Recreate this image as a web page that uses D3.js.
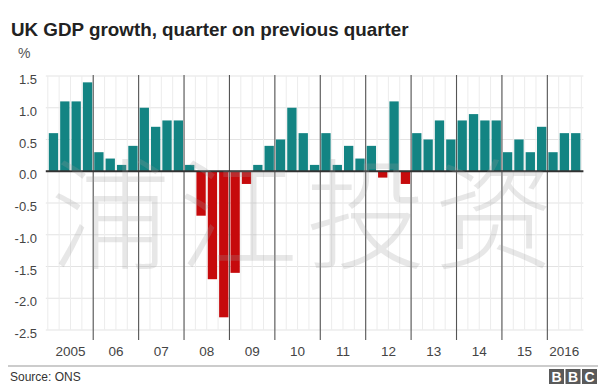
<!DOCTYPE html>
<html><head><meta charset="utf-8">
<script src="https://cdn.jsdelivr.net/npm/d3@7"></script>
<style>body{margin:0;background:#fff}svg{display:block}</style>
</head><body><svg id="c" width="600" height="391"></svg>
<script>
const quarters = [
 "2005Q1","2005Q2","2005Q3","2005Q4","2006Q1","2006Q2","2006Q3","2006Q4",
 "2007Q1","2007Q2","2007Q3","2007Q4","2008Q1","2008Q2","2008Q3","2008Q4",
 "2009Q1","2009Q2","2009Q3","2009Q4","2010Q1","2010Q2","2010Q3","2010Q4",
 "2011Q1","2011Q2","2011Q3","2011Q4","2012Q1","2012Q2","2012Q3","2012Q4",
 "2013Q1","2013Q2","2013Q3","2013Q4","2014Q1","2014Q2","2014Q3","2014Q4",
 "2015Q1","2015Q2","2015Q3","2015Q4","2016Q1","2016Q2","2016Q3"];
const growth = [
 0.6,1.1,1.1,1.4, 0.3,0.2,0.1,0.4, 1.0,0.7,0.8,0.8, 0.1,-0.7,-1.7,-2.3,
 -1.6,-0.2,0.1,0.4, 0.5,1.0,0.6,0.1, 0.6,0.1,0.4,0.2, 0.4,-0.1,1.1,-0.2,
 0.6,0.5,0.8,0.5, 0.8,0.9,0.8,0.8, 0.3,0.5,0.3,0.7, 0.3,0.6,0.6];
const years = ["2005","2006","2007","2008","2009","2010","2011","2012","2013","2014","2015","2016"];
const yearLabels = ["2005","06","07","08","09","10","11","12","13","14","15","2016"];
const yTicks = [1.5,1.0,0.5,0.0,-0.5,-1.0,-1.5,-2.0,-2.5];
const yTickLabels = ["1.5","1.0","0.5","0.0","-0.5","-1.0","-1.5","-2.0","-2.5"];
const title = "UK GDP growth, quarter on previous quarter";
const unit = "%";
const source = "Source: ONS";
const watermark = ["浦","江","投","资"];

const svg = d3.select("#c");
const FONT = "'Liberation Sans', Arial, Helvetica, sans-serif";
const data = quarters.map((q,i)=>({q, v:growth[i], year:q.slice(0,4)}));

const x = d3.scaleBand().domain(quarters).range([47.8, 581.4]).paddingInner(0.18).paddingOuter(0.09);
const y = d3.scaleLinear().domain([-2.5, 1.5]).range([330, 76]);
const step = x.step();
const left = x.range()[0], right = x.range()[1];
const qStart = q => x(q) - (step - x.bandwidth())/2;

// title
const t = svg.append("text").attr("x", 11).attr("y", 36).text(title)
  .attr("font-family", FONT).attr("font-weight", "bold").attr("font-size", 20).attr("fill", "#222");
const tl = t.node().getComputedTextLength();
t.attr("font-size", 20 * 398 / tl);

svg.append("text").attr("x", 18).attr("y", 58).text(unit)
  .attr("font-family", FONT).attr("font-size", 14).attr("fill", "#555");

// horizontal grid
svg.append("g").selectAll("line").data(yTicks).join("line")
  .attr("x1", left - 2).attr("x2", right + 2)
  .attr("y1", d=>y(d)).attr("y2", d=>y(d))
  .attr("stroke", "#e3e3e3").attr("stroke-width", 1);

// vertical quarter grid
svg.append("g").selectAll("line").data(quarters).join("line")
  .attr("x1", d=>qStart(d)).attr("x2", d=>qStart(d))
  .attr("y1", y(1.5)).attr("y2", y(-2.5))
  .attr("stroke", "#ececec").attr("stroke-width", 1);
svg.append("line").attr("x1", right).attr("x2", right).attr("y1", y(1.5)).attr("y2", y(-2.5))
  .attr("stroke", "#ececec");

// y labels
svg.append("g").selectAll("text").data(yTicks).join("text")
  .attr("x", 37).attr("y", d=>y(d)+8).attr("text-anchor", "end")
  .text((d,i)=>yTickLabels[i])
  .attr("font-family", FONT).attr("font-size", 13).attr("fill", "#444");

// year lines
const yearStarts = years.slice(1).map(yr => quarters.find(q=>q.startsWith(yr)));
svg.append("g").selectAll("line").data(yearStarts).join("line")
  .attr("x1", d=>qStart(d)).attr("x2", d=>qStart(d))
  .attr("y1", y(1.5)-1).attr("y2", y(-2.5)+10)
  .attr("stroke", "#555").attr("stroke-width", 1.1);

// bars
svg.append("g").selectAll("rect").data(data).join("rect")
  .attr("x", d=>x(d.q)).attr("width", x.bandwidth())
  .attr("y", d=>y(Math.max(0,d.v))).attr("height", d=>Math.abs(y(d.v)-y(0)))
  .attr("fill", d=>d.v>=0 ? "#138483" : "#c60a0c");

// zero line
svg.append("line").attr("x1", left-2).attr("x2", right+2).attr("y1", y(0)).attr("y2", y(0))
  .attr("stroke", "#333").attr("stroke-width", 2);

// year labels
svg.append("g").selectAll("text").data(years).join("text")
  .attr("x", yr => { const qs = quarters.filter(q=>q.startsWith(yr)); return d3.mean(qs, q=>x(q)+x.bandwidth()/2); })
  .attr("y", 356).attr("text-anchor", "middle")
  .text((d,i)=>yearLabels[i])
  .attr("font-family", FONT).attr("font-size", 13.5).attr("fill", "#444");

// watermark
svg.append("g").selectAll("text").data(watermark).join("text")
  .attr("x", (d,i)=>110 + i*128).attr("y", 260).attr("text-anchor","middle")
  .text(d=>d)
  .attr("font-family", "'Noto Sans CJK SC', sans-serif").attr("font-weight", 300)
  .attr("font-size", 120).attr("fill", "#999").attr("fill-opacity", 0.24);

// footer
svg.append("line").attr("x1", 8).attr("x2", 598).attr("y1", 366).attr("y2", 366)
  .attr("stroke", "#999").attr("stroke-width", 1);
svg.append("text").attr("x", 10).attr("y", 381).text(source)
  .attr("font-family", FONT).attr("font-size", 12).attr("fill", "#333");
const logo = ["B","B","C"];
const lg = svg.append("g").selectAll("g").data(logo).join("g")
  .attr("transform", (d,i)=>`translate(${549 + i*16.5},369)`);
lg.append("rect").attr("width", 15).attr("height", 15).attr("fill", "#5a5a5a");
lg.append("text").attr("x", 7.5).attr("y", 12.5).attr("text-anchor","middle").text(d=>d)
  .attr("font-family", FONT).attr("font-weight","bold").attr("font-size", 14).attr("fill", "#fff");
</script></body></html>
